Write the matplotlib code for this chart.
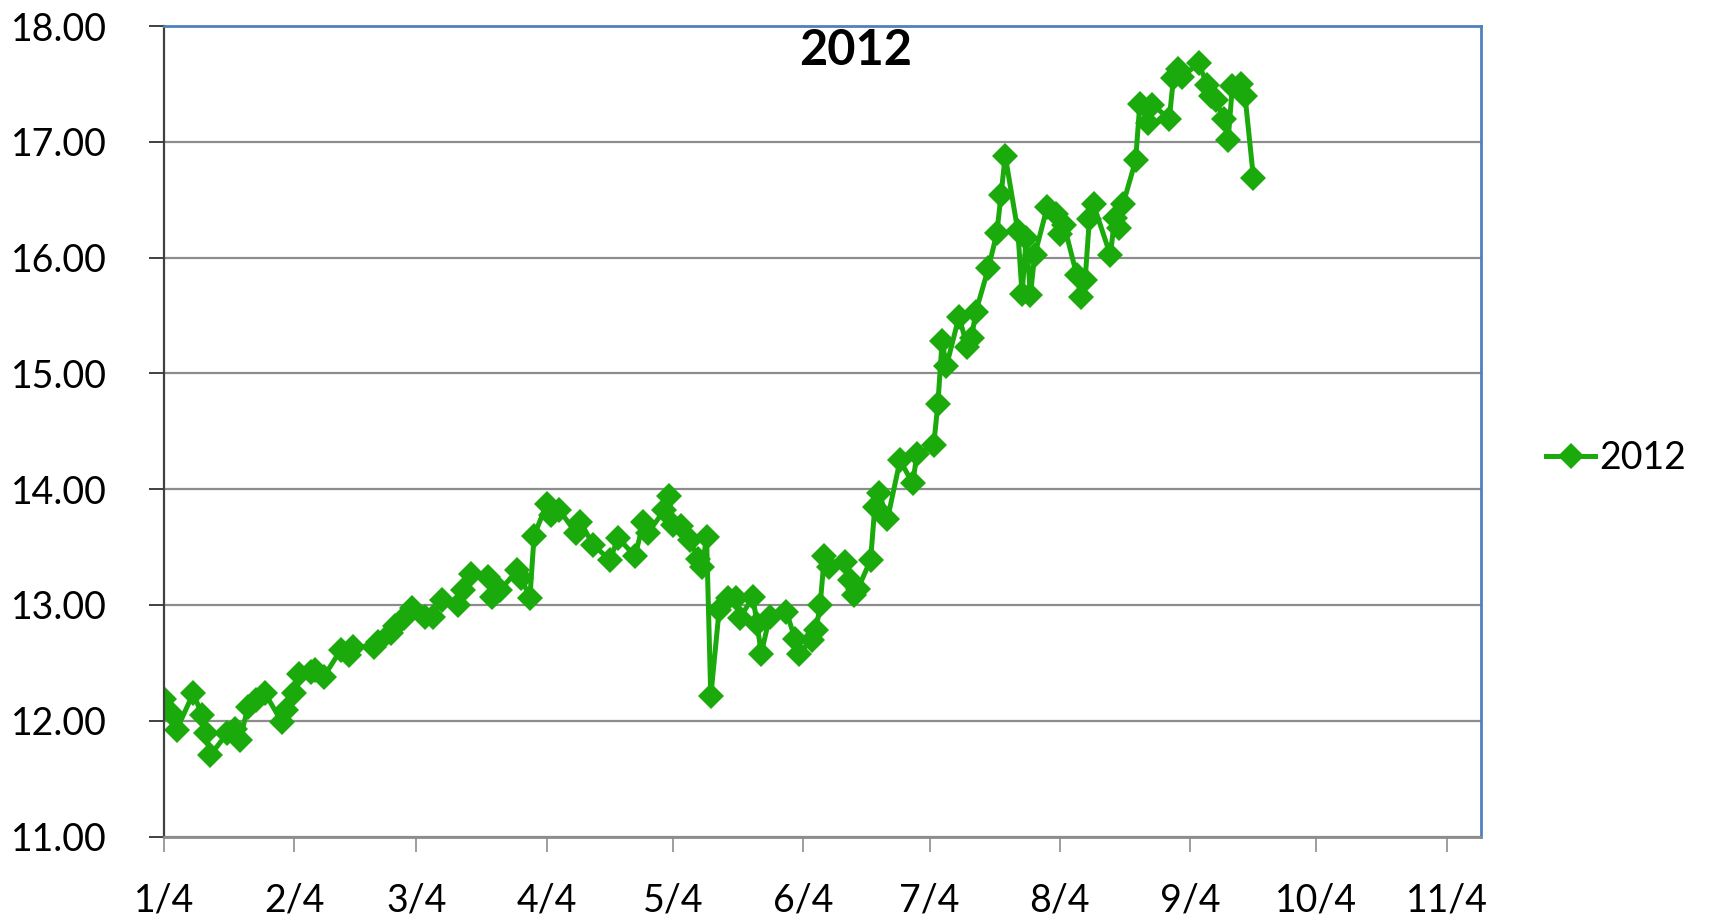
import pandas as pd
import matplotlib
matplotlib.use("Agg")
import matplotlib.pyplot as plt
from matplotlib.lines import Line2D

plt.rcParams['font.family'] = ['Lato', 'DejaVu Sans']

# trading dates (2012) and values
dates = [
    "01-04", "01-06", "01-07", "01-11", "01-13", "01-14", "01-15", "01-19", "01-21", "01-22",
    "01-24", "01-26", "01-28", "02-01", "02-02", "02-04", "02-05", "02-08", "02-09", "02-11",
    "02-15", "02-17", "02-18", "02-23", "02-24", "02-27", "02-28", "03-01", "03-03", "03-06",
    "03-08", "03-10", "03-14", "03-15", "03-17", "03-21", "03-22", "03-24", "03-28", "03-29",
    "03-31", "04-01", "04-04", "04-05", "04-07", "04-11", "04-12", "04-15", "04-19", "04-21",
    "04-25", "04-27", "04-28", "05-02", "05-03", "05-04", "05-06", "05-08", "05-10", "05-11",
    "05-12", "05-13", "05-15", "05-17", "05-19", "05-20", "05-23", "05-24", "05-25", "05-27",
    "05-31", "06-02", "06-03", "06-06", "06-07", "06-08", "06-09", "06-10", "06-14", "06-15",
    "06-16", "06-17", "06-20", "06-21", "06-22", "06-24", "06-27", "06-30", "07-01", "07-05",
    "07-06", "07-07", "07-08", "07-11", "07-13", "07-14", "07-15", "07-18", "07-20", "07-21",
    "07-22", "07-25", "07-26", "07-27", "07-28", "07-29", "08-01", "08-03", "08-04", "08-05",
    "08-08", "08-09", "08-10", "08-11", "08-12", "08-16", "08-17", "08-18", "08-19", "08-22",
    "08-23", "08-25", "08-26", "08-30", "08-31", "09-01", "09-02", "09-06", "09-08", "09-09",
    "09-10", "09-12", "09-13", "09-14", "09-16", "09-17", "09-19",
]
values = [
    12.19, 12.06, 11.92, 12.24, 12.05, 11.89, 11.70, 11.89, 11.93, 11.83,
    12.12, 12.18, 12.24, 11.99, 12.09, 12.24, 12.40, 12.42, 12.44, 12.38,
    12.61, 12.57, 12.64, 12.64, 12.68, 12.76, 12.82, 12.89, 12.97, 12.90,
    12.90, 13.04, 13.00, 13.13, 13.27, 13.24, 13.07, 13.13, 13.30, 13.23,
    13.06, 13.60, 13.87, 13.78, 13.82, 13.62, 13.72, 13.52, 13.39, 13.58,
    13.42, 13.72, 13.62, 13.82, 13.94, 13.69, 13.68, 13.56, 13.40, 13.33,
    13.59, 12.21, 12.96, 13.06, 13.06, 12.89, 13.07, 12.84, 12.58, 12.90,
    12.94, 12.71, 12.58, 12.70, 12.78, 13.00, 13.42, 13.33, 13.37, 13.22,
    13.09, 13.14, 13.39, 13.85, 13.97, 13.74, 14.25, 14.05, 14.30, 14.38,
    14.74, 15.28, 15.06, 15.49, 15.23, 15.31, 15.53, 15.91, 16.21, 16.54,
    16.88, 16.23, 15.69, 16.17, 15.68, 16.02, 16.44, 16.38, 16.20, 16.28,
    15.85, 15.66, 15.81, 16.33, 16.46, 16.02, 16.34, 16.26, 16.46, 16.84,
    17.33, 17.16, 17.32, 17.20, 17.55, 17.63, 17.56, 17.68, 17.49, 17.40,
    17.36, 17.20, 17.02, 17.48, 17.50, 17.40, 16.69,
]
tick_dates = ["01-04", "02-04", "03-04", "04-04", "05-04", "06-04",
              "07-04", "08-04", "09-04", "10-04", "11-04"]
series_name = "2012"

x = pd.to_datetime(["2012-" + d for d in dates])
ticks = pd.to_datetime(["2012-" + d for d in tick_dates])

green = "#1AAA0B"
fig = plt.figure(figsize=(17.13, 9.22), dpi=100)
ax = fig.add_axes([0.0957, 0.0927, 0.7686, 0.879])

ax.plot(x, values, color=green, lw=3.6, marker="D", markersize=13,
        markeredgewidth=0, solid_joinstyle="round")

ax.set_ylim(11, 18)
ax.set_xlim(pd.Timestamp("2012-01-04"), pd.Timestamp("2012-11-12"))
ax.set_yticks([11, 12, 13, 14, 15, 16, 17, 18])
ax.yaxis.set_major_formatter(plt.FuncFormatter(lambda v, p: f"{v:.2f}"))
ax.set_xticks(ticks)
ax.set_xticklabels([f"{t.month}/{t.day}" for t in ticks])

ax.grid(axis="y", color="#8c8c8c", lw=1.6)
ax.set_axisbelow(True)
ax.tick_params(axis="y", length=11, width=1.4, color="#404040", pad=30, labelsize=27)
ax.tick_params(axis="x", length=11, width=1.2, color="#8c8c8c", pad=22, labelsize=27)

for s in ["top", "right"]:
    ax.spines[s].set_color("#4F81BD")
    ax.spines[s].set_linewidth(2)
ax.spines["left"].set_color("#404040")
ax.spines["left"].set_linewidth(1.6)
ax.spines["bottom"].set_color("#8c8c8c")
ax.spines["bottom"].set_linewidth(2)

ax.text(0.525, 0.97, series_name, transform=ax.transAxes, ha="center", va="center",
        fontsize=35, fontweight="bold")

handle = Line2D([], [], color=green, lw=3.6, marker="D", markersize=13, markeredgewidth=0)
fig.legend([handle], [series_name], loc="center left", bbox_to_anchor=(0.894, 0.503),
           frameon=False, fontsize=27, handlelength=1.3, handletextpad=0.1,
           borderaxespad=0)

fig.savefig("out.png", dpi=100)
